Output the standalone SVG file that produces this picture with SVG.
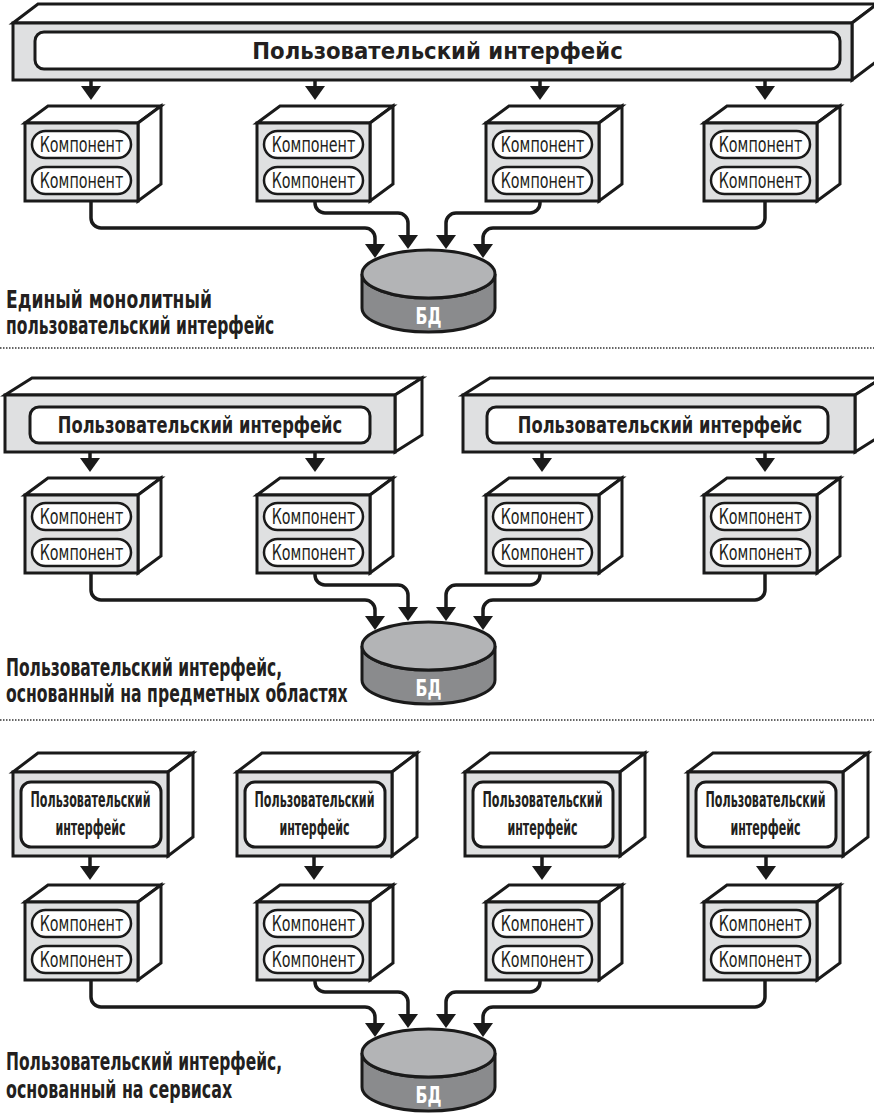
<svg xmlns="http://www.w3.org/2000/svg" width="874" height="1113" viewBox="0 0 874 1113">
<style>
.face{fill:#ffffff;stroke:#1a1a1a;stroke-width:3;stroke-linejoin:miter}
.front{fill:#dfe0e1;stroke:#1a1a1a;stroke-width:3}
.pill{fill:#ffffff;stroke:#1a1a1a;stroke-width:2.5}
.inner{fill:#ffffff;stroke:#1a1a1a;stroke-width:3}
.ct{font-family:"DejaVu Sans Condensed","Liberation Sans Narrow","Liberation Sans",sans-serif;font-size:21px;fill:#231f20;text-anchor:middle}
.ut{font-family:"DejaVu Sans Condensed","Liberation Sans Narrow","Liberation Sans",sans-serif;font-size:23px;font-weight:bold;fill:#231f20;text-anchor:middle}
.st{font-family:"DejaVu Sans Condensed","Liberation Sans Narrow","Liberation Sans",sans-serif;font-size:21px;font-weight:bold;fill:#231f20;text-anchor:middle}
.lb{font-family:"DejaVu Sans Condensed","Liberation Sans Narrow","Liberation Sans",sans-serif;font-size:24px;font-weight:bold;fill:#231f20}
.dbs{fill:#8a8b8d;stroke:#1a1a1a;stroke-width:3}
.dbt{fill:#b3b4b6;stroke:#1a1a1a;stroke-width:3}
.dbl{font-family:"DejaVu Sans Condensed","Liberation Sans Narrow","Liberation Sans",sans-serif;font-size:23px;font-weight:bold;fill:#ffffff;text-anchor:middle}
.conn{fill:none;stroke:#1a1a1a;stroke-width:3.5;marker-end:url(#ah)}
.sep{stroke:#333;stroke-width:1.5;stroke-dasharray:1.5 1.5}
</style>
<defs>
<marker id="ah" markerUnits="userSpaceOnUse" viewBox="0 0 14 20" markerWidth="14" markerHeight="20" refX="6" refY="10" orient="auto">
<path d="M0,0 L14,10 L0,20 Z" fill="#1a1a1a"/>
</marker>
</defs>

<!-- Section 1 -->
<g id="ui1">
<polygon class="face" points="13,23 38,4 877,4 852,23"/>
<polygon class="face" points="852,23 877,4 877,61 852,80"/>
<rect class="front" x="13" y="23" width="839" height="57"/>
<rect class="inner" x="35" y="32" width="805" height="37" rx="9"/>
<text class="ut" transform="translate(437.5,59) scale(0.95,1)" textLength="390" lengthAdjust="spacingAndGlyphs">Пользовательский интерфейс</text>
</g>
<g id="s1c1" transform="translate(25,123)">
<polygon class="face" points="0,0 23,-17 136,-17 113,0"/><polygon class="face" points="113,0 136,-17 136,61 113,78"/>
<rect class="front" width="113" height="78"/><rect class="pill" x="7" y="8" width="99" height="27" rx="13.5"/><rect class="pill" x="7" y="44" width="99" height="27" rx="13.5"/>
<text class="ct" transform="translate(56.5,29) scale(0.76,1)" textLength="110" lengthAdjust="spacingAndGlyphs">Компонент</text><text class="ct" transform="translate(56.5,65) scale(0.76,1)" textLength="110" lengthAdjust="spacingAndGlyphs">Компонент</text>
</g>
<g id="s1c2" transform="translate(257,123)">
<polygon class="face" points="0,0 23,-17 136,-17 113,0"/><polygon class="face" points="113,0 136,-17 136,61 113,78"/>
<rect class="front" width="113" height="78"/><rect class="pill" x="7" y="8" width="99" height="27" rx="13.5"/><rect class="pill" x="7" y="44" width="99" height="27" rx="13.5"/>
<text class="ct" transform="translate(56.5,29) scale(0.76,1)" textLength="110" lengthAdjust="spacingAndGlyphs">Компонент</text><text class="ct" transform="translate(56.5,65) scale(0.76,1)" textLength="110" lengthAdjust="spacingAndGlyphs">Компонент</text>
</g>
<g id="s1c3" transform="translate(486,123)">
<polygon class="face" points="0,0 23,-17 136,-17 113,0"/><polygon class="face" points="113,0 136,-17 136,61 113,78"/>
<rect class="front" width="113" height="78"/><rect class="pill" x="7" y="8" width="99" height="27" rx="13.5"/><rect class="pill" x="7" y="44" width="99" height="27" rx="13.5"/>
<text class="ct" transform="translate(56.5,29) scale(0.76,1)" textLength="110" lengthAdjust="spacingAndGlyphs">Компонент</text><text class="ct" transform="translate(56.5,65) scale(0.76,1)" textLength="110" lengthAdjust="spacingAndGlyphs">Компонент</text>
</g>
<g id="s1c4" transform="translate(704,123)">
<polygon class="face" points="0,0 23,-17 136,-17 113,0"/><polygon class="face" points="113,0 136,-17 136,61 113,78"/>
<rect class="front" width="113" height="78"/><rect class="pill" x="7" y="8" width="99" height="27" rx="13.5"/><rect class="pill" x="7" y="44" width="99" height="27" rx="13.5"/>
<text class="ct" transform="translate(56.5,29) scale(0.76,1)" textLength="110" lengthAdjust="spacingAndGlyphs">Компонент</text><text class="ct" transform="translate(56.5,65) scale(0.76,1)" textLength="110" lengthAdjust="spacingAndGlyphs">Компонент</text>
</g>
<g id="s1db" transform="translate(428.5,274)">
<path class="dbs" d="M-66.5,0 A66.5,24 0 0 0 66.5,0 V34 A66.5,24 0 0 1 -66.5,34 Z"/>
<ellipse class="dbt" cx="0" cy="0" rx="66.5" ry="24"/>
<text class="dbl" x="0" y="50" textLength="26" lengthAdjust="spacingAndGlyphs">БД</text>
</g>
<g id="s1label">
<text class="lb" transform="translate(6,308) scale(0.78,1)" textLength="264" lengthAdjust="spacingAndGlyphs">Единый монолитный</text>
<text class="lb" transform="translate(6,334) scale(0.78,1)" textLength="344" lengthAdjust="spacingAndGlyphs">пользовательский интерфейс</text>
</g>
<line class="sep" x1="0" y1="348" x2="874" y2="348"/>

<!-- Section 2 -->
<g id="ui2a">
<polygon class="face" points="5,395 32,378 422,378 395,395"/>
<polygon class="face" points="395,395 422,378 422,435 395,452"/>
<rect class="front" x="5" y="395" width="390" height="57"/>
<rect class="inner" x="30" y="407" width="340" height="36" rx="9"/>
<text class="ut" transform="translate(200,433) scale(0.79,1)" textLength="360" lengthAdjust="spacingAndGlyphs">Пользовательский интерфейс</text>
</g>
<g id="ui2b">
<polygon class="face" points="463,395 490,378 882,378 855,395"/>
<polygon class="face" points="855,395 882,378 882,435 855,452"/>
<rect class="front" x="463" y="395" width="392" height="57"/>
<rect class="inner" x="487" y="407" width="341" height="36" rx="9"/>
<text class="ut" transform="translate(660,433) scale(0.79,1)" textLength="360" lengthAdjust="spacingAndGlyphs">Пользовательский интерфейс</text>
</g>
<g id="s2c1" transform="translate(25,495)">
<polygon class="face" points="0,0 23,-17 136,-17 113,0"/><polygon class="face" points="113,0 136,-17 136,61 113,78"/>
<rect class="front" width="113" height="78"/><rect class="pill" x="7" y="8" width="99" height="27" rx="13.5"/><rect class="pill" x="7" y="44" width="99" height="27" rx="13.5"/>
<text class="ct" transform="translate(56.5,29) scale(0.76,1)" textLength="110" lengthAdjust="spacingAndGlyphs">Компонент</text><text class="ct" transform="translate(56.5,65) scale(0.76,1)" textLength="110" lengthAdjust="spacingAndGlyphs">Компонент</text>
</g>
<g id="s2c2" transform="translate(257,495)">
<polygon class="face" points="0,0 23,-17 136,-17 113,0"/><polygon class="face" points="113,0 136,-17 136,61 113,78"/>
<rect class="front" width="113" height="78"/><rect class="pill" x="7" y="8" width="99" height="27" rx="13.5"/><rect class="pill" x="7" y="44" width="99" height="27" rx="13.5"/>
<text class="ct" transform="translate(56.5,29) scale(0.76,1)" textLength="110" lengthAdjust="spacingAndGlyphs">Компонент</text><text class="ct" transform="translate(56.5,65) scale(0.76,1)" textLength="110" lengthAdjust="spacingAndGlyphs">Компонент</text>
</g>
<g id="s2c3" transform="translate(486,495)">
<polygon class="face" points="0,0 23,-17 136,-17 113,0"/><polygon class="face" points="113,0 136,-17 136,61 113,78"/>
<rect class="front" width="113" height="78"/><rect class="pill" x="7" y="8" width="99" height="27" rx="13.5"/><rect class="pill" x="7" y="44" width="99" height="27" rx="13.5"/>
<text class="ct" transform="translate(56.5,29) scale(0.76,1)" textLength="110" lengthAdjust="spacingAndGlyphs">Компонент</text><text class="ct" transform="translate(56.5,65) scale(0.76,1)" textLength="110" lengthAdjust="spacingAndGlyphs">Компонент</text>
</g>
<g id="s2c4" transform="translate(704,495)">
<polygon class="face" points="0,0 23,-17 136,-17 113,0"/><polygon class="face" points="113,0 136,-17 136,61 113,78"/>
<rect class="front" width="113" height="78"/><rect class="pill" x="7" y="8" width="99" height="27" rx="13.5"/><rect class="pill" x="7" y="44" width="99" height="27" rx="13.5"/>
<text class="ct" transform="translate(56.5,29) scale(0.76,1)" textLength="110" lengthAdjust="spacingAndGlyphs">Компонент</text><text class="ct" transform="translate(56.5,65) scale(0.76,1)" textLength="110" lengthAdjust="spacingAndGlyphs">Компонент</text>
</g>
<g id="s2db" transform="translate(428.5,646)">
<path class="dbs" d="M-66.5,0 A66.5,24 0 0 0 66.5,0 V34 A66.5,24 0 0 1 -66.5,34 Z"/>
<ellipse class="dbt" cx="0" cy="0" rx="66.5" ry="24"/>
<text class="dbl" x="0" y="50" textLength="26" lengthAdjust="spacingAndGlyphs">БД</text>
</g>
<g id="s2label">
<text class="lb" transform="translate(6,676) scale(0.78,1)" textLength="354" lengthAdjust="spacingAndGlyphs">Пользовательский интерфейс,</text>
<text class="lb" transform="translate(6,702) scale(0.78,1)" textLength="438" lengthAdjust="spacingAndGlyphs">основанный на предметных областях</text>
</g>
<line class="sep" x1="0" y1="720" x2="874" y2="720"/>

<!-- Section 3 -->
<g id="s3u1" transform="translate(13,772)">
<polygon class="face" points="0,0 25,-19 180,-19 155,0"/><polygon class="face" points="155,0 180,-19 180,65 155,84"/>
<rect class="front" width="155" height="84"/><rect class="inner" x="8" y="10" width="140" height="65" rx="10"/>
<text class="st" transform="translate(77.5,35) scale(0.6,1)" textLength="200" lengthAdjust="spacingAndGlyphs">Пользовательский</text><text class="st" transform="translate(77.5,63) scale(0.6,1)" textLength="117" lengthAdjust="spacingAndGlyphs">интерфейс</text>
</g>
<g id="s3u2" transform="translate(237,772)">
<polygon class="face" points="0,0 25,-19 180,-19 155,0"/><polygon class="face" points="155,0 180,-19 180,65 155,84"/>
<rect class="front" width="155" height="84"/><rect class="inner" x="8" y="10" width="140" height="65" rx="10"/>
<text class="st" transform="translate(77.5,35) scale(0.6,1)" textLength="200" lengthAdjust="spacingAndGlyphs">Пользовательский</text><text class="st" transform="translate(77.5,63) scale(0.6,1)" textLength="117" lengthAdjust="spacingAndGlyphs">интерфейс</text>
</g>
<g id="s3u3" transform="translate(465,772)">
<polygon class="face" points="0,0 25,-19 180,-19 155,0"/><polygon class="face" points="155,0 180,-19 180,65 155,84"/>
<rect class="front" width="155" height="84"/><rect class="inner" x="8" y="10" width="140" height="65" rx="10"/>
<text class="st" transform="translate(77.5,35) scale(0.6,1)" textLength="200" lengthAdjust="spacingAndGlyphs">Пользовательский</text><text class="st" transform="translate(77.5,63) scale(0.6,1)" textLength="117" lengthAdjust="spacingAndGlyphs">интерфейс</text>
</g>
<g id="s3u4" transform="translate(688,772)">
<polygon class="face" points="0,0 25,-19 180,-19 155,0"/><polygon class="face" points="155,0 180,-19 180,65 155,84"/>
<rect class="front" width="155" height="84"/><rect class="inner" x="8" y="10" width="140" height="65" rx="10"/>
<text class="st" transform="translate(77.5,35) scale(0.6,1)" textLength="200" lengthAdjust="spacingAndGlyphs">Пользовательский</text><text class="st" transform="translate(77.5,63) scale(0.6,1)" textLength="117" lengthAdjust="spacingAndGlyphs">интерфейс</text>
</g>
<g id="s3c1" transform="translate(25,902)">
<polygon class="face" points="0,0 23,-17 136,-17 113,0"/><polygon class="face" points="113,0 136,-17 136,61 113,78"/>
<rect class="front" width="113" height="78"/><rect class="pill" x="7" y="8" width="99" height="27" rx="13.5"/><rect class="pill" x="7" y="44" width="99" height="27" rx="13.5"/>
<text class="ct" transform="translate(56.5,29) scale(0.76,1)" textLength="110" lengthAdjust="spacingAndGlyphs">Компонент</text><text class="ct" transform="translate(56.5,65) scale(0.76,1)" textLength="110" lengthAdjust="spacingAndGlyphs">Компонент</text>
</g>
<g id="s3c2" transform="translate(257,902)">
<polygon class="face" points="0,0 23,-17 136,-17 113,0"/><polygon class="face" points="113,0 136,-17 136,61 113,78"/>
<rect class="front" width="113" height="78"/><rect class="pill" x="7" y="8" width="99" height="27" rx="13.5"/><rect class="pill" x="7" y="44" width="99" height="27" rx="13.5"/>
<text class="ct" transform="translate(56.5,29) scale(0.76,1)" textLength="110" lengthAdjust="spacingAndGlyphs">Компонент</text><text class="ct" transform="translate(56.5,65) scale(0.76,1)" textLength="110" lengthAdjust="spacingAndGlyphs">Компонент</text>
</g>
<g id="s3c3" transform="translate(486,902)">
<polygon class="face" points="0,0 23,-17 136,-17 113,0"/><polygon class="face" points="113,0 136,-17 136,61 113,78"/>
<rect class="front" width="113" height="78"/><rect class="pill" x="7" y="8" width="99" height="27" rx="13.5"/><rect class="pill" x="7" y="44" width="99" height="27" rx="13.5"/>
<text class="ct" transform="translate(56.5,29) scale(0.76,1)" textLength="110" lengthAdjust="spacingAndGlyphs">Компонент</text><text class="ct" transform="translate(56.5,65) scale(0.76,1)" textLength="110" lengthAdjust="spacingAndGlyphs">Компонент</text>
</g>
<g id="s3c4" transform="translate(704,902)">
<polygon class="face" points="0,0 23,-17 136,-17 113,0"/><polygon class="face" points="113,0 136,-17 136,61 113,78"/>
<rect class="front" width="113" height="78"/><rect class="pill" x="7" y="8" width="99" height="27" rx="13.5"/><rect class="pill" x="7" y="44" width="99" height="27" rx="13.5"/>
<text class="ct" transform="translate(56.5,29) scale(0.76,1)" textLength="110" lengthAdjust="spacingAndGlyphs">Компонент</text><text class="ct" transform="translate(56.5,65) scale(0.76,1)" textLength="110" lengthAdjust="spacingAndGlyphs">Компонент</text>
</g>
<g id="s3db" transform="translate(428.5,1053)">
<path class="dbs" d="M-66.5,0 A66.5,24 0 0 0 66.5,0 V34 A66.5,24 0 0 1 -66.5,34 Z"/>
<ellipse class="dbt" cx="0" cy="0" rx="66.5" ry="24"/>
<text class="dbl" x="0" y="50" textLength="26" lengthAdjust="spacingAndGlyphs">БД</text>
</g>
<g id="s3label">
<text class="lb" transform="translate(6,1070) scale(0.78,1)" textLength="354" lengthAdjust="spacingAndGlyphs">Пользовательский интерфейс,</text>
<text class="lb" transform="translate(6,1098) scale(0.78,1)" textLength="290" lengthAdjust="spacingAndGlyphs">основанный на сервисах</text>
</g>

<!-- Connectors -->
<g id="connectors">
<path class="conn" d="M91,80 V92"/><path class="conn" d="M315,80 V92"/><path class="conn" d="M540,80 V92"/><path class="conn" d="M765,80 V92"/>
<path class="conn" d="M91,202 V218 A10,10 0 0 0 101,228 H365 A10,10 0 0 1 375,238 V250"/>
<path class="conn" d="M315,202 V203 A10,10 0 0 0 325,213 H398 A10,10 0 0 1 408,223 V241"/>
<path class="conn" d="M540,202 V203 A10,10 0 0 1 530,213 H456 A10,10 0 0 0 446,223 V241"/>
<path class="conn" d="M765,202 V218 A10,10 0 0 1 755,228 H493 A10,10 0 0 0 483,238 V250"/>

<path class="conn" d="M90,452 V464"/><path class="conn" d="M315,452 V464"/><path class="conn" d="M542,452 V464"/><path class="conn" d="M765,452 V464"/>
<path class="conn" d="M91,574 V590 A10,10 0 0 0 101,600 H365 A10,10 0 0 1 375,610 V622"/>
<path class="conn" d="M315,574 V575 A10,10 0 0 0 325,585 H398 A10,10 0 0 1 408,595 V613"/>
<path class="conn" d="M540,574 V575 A10,10 0 0 1 530,585 H456 A10,10 0 0 0 446,595 V613"/>
<path class="conn" d="M765,574 V590 A10,10 0 0 1 755,600 H493 A10,10 0 0 0 483,610 V622"/>

<path class="conn" d="M90,856 V872"/><path class="conn" d="M314,856 V872"/><path class="conn" d="M542,856 V872"/><path class="conn" d="M766,856 V872"/>
<path class="conn" d="M91,981 V997 A10,10 0 0 0 101,1007 H365 A10,10 0 0 1 375,1017 V1029"/>
<path class="conn" d="M315,981 V982 A10,10 0 0 0 325,992 H398 A10,10 0 0 1 408,1002 V1020"/>
<path class="conn" d="M540,981 V982 A10,10 0 0 1 530,992 H456 A10,10 0 0 0 446,1002 V1020"/>
<path class="conn" d="M765,981 V997 A10,10 0 0 1 755,1007 H493 A10,10 0 0 0 483,1017 V1029"/>
</g>
</svg>
